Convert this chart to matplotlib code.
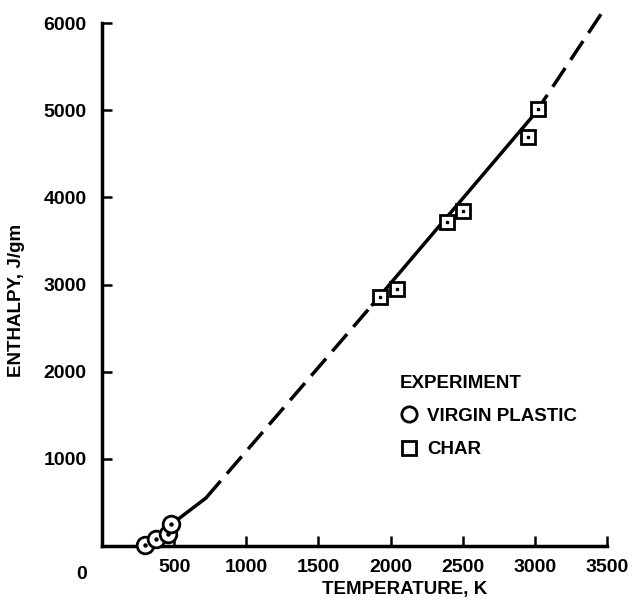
import matplotlib
matplotlib.use("Agg")
import matplotlib.pyplot as plt
from matplotlib.lines import Line2D

plt.rcParams['font.family'] = ['Liberation Sans', 'DejaVu Sans']
plt.rcParams['font.weight'] = 'bold'

# Data
virgin_T = [300, 375, 458, 479]
virgin_H = [10, 80, 140, 250]
char_T = [1930, 2042, 2389, 2500, 2951, 3021]
char_H = [2862, 2943, 3713, 3839, 4690, 5011]

# Fitted curve segments (solid / dashed)
solid1_T = [490, 720]
solid1_H = [260, 550]
dash1_T = [720, 1875]
dash1_H = [550, 2770]
solid2_T = [1875, 3000]
solid2_H = [2770, 4960]
dash2_T = [3000, 3490]
dash2_H = [4960, 6180]

x_ticks = [500, 1000, 1500, 2000, 2500, 3000, 3500]
y_ticks = [1000, 2000, 3000, 4000, 5000, 6000]

fig = plt.figure(figsize=(6.37, 6.06), dpi=100)
ax = fig.add_axes([102/637, 60/606, 505/637, 523/606])

lw = 2.5
ax.plot(solid1_T, solid1_H, color='black', lw=lw, solid_capstyle='round')
ax.plot(dash1_T, dash1_H, color='black', lw=lw, dashes=(6.5, 2.8))
ax.plot(solid2_T, solid2_H, color='black', lw=lw)
ax.plot(dash2_T, dash2_H, color='black', lw=lw, dashes=(6.5, 2.8), clip_on=False)

ax.plot(virgin_T, virgin_H, linestyle='none', marker='o', ms=12, mfc='white',
        mec='black', mew=2.0, clip_on=False, zorder=5)
ax.plot(virgin_T, virgin_H, linestyle='none', marker='o', ms=2.2, color='black',
        clip_on=False, zorder=6)
ax.plot(char_T, char_H, linestyle='none', marker='s', ms=10.5, mfc='white',
        mec='black', mew=2.0, clip_on=False, zorder=5)
ax.plot(char_T, char_H, linestyle='none', marker='s', ms=2, color='black',
        clip_on=False, zorder=6)

ax.set_xlim(0, 3500)
ax.set_ylim(0, 6000)
for s in ['top', 'right']:
    ax.spines[s].set_visible(False)
for s in ['left', 'bottom']:
    ax.spines[s].set_linewidth(2.5)

ax.set_xticks(x_ticks)
ax.set_yticks(y_ticks)
ax.set_xticklabels([str(v) for v in x_ticks])
ax.set_yticklabels([str(v) for v in y_ticks])
ax.tick_params(axis='both', direction='in', length=7, width=1.8,
               labelsize=14, pad=9)
ax.tick_params(axis='y', pad=11)
ax.text(-0.04, -0.055, '0', transform=ax.transAxes, ha='center', va='center',
        fontsize=14, fontweight='bold')

ax.set_xlabel('TEMPERATURE, K', fontsize=13.5, fontweight='bold')
ax.xaxis.set_label_coords((405 - 102) / 505, -0.066)
ax.set_ylabel('ENTHALPY, J/gm', fontsize=13.5, fontweight='bold')
ax.yaxis.set_label_coords(-0.152, 0.47)

handles = [
    Line2D([], [], linestyle='none', marker='o', ms=11, mfc='white', mec='black', mew=2.0,
           label='VIRGIN PLASTIC'),
    Line2D([], [], linestyle='none', marker='s', ms=10, mfc='white', mec='black', mew=2.0,
           label='CHAR'),
]
leg = ax.legend(handles=handles, title='EXPERIMENT', loc='upper left',
                bbox_to_anchor=(0.572, 0.345), frameon=False, alignment='left',
                prop={'size': 13.5, 'weight': 'bold'}, handletextpad=0.55,
                labelspacing=0.85, handlelength=0.9, borderpad=0)
leg.get_title().set_fontsize(13.5)
leg.get_title().set_fontweight('bold')

fig.savefig('out.png', dpi=100, facecolor='white')
